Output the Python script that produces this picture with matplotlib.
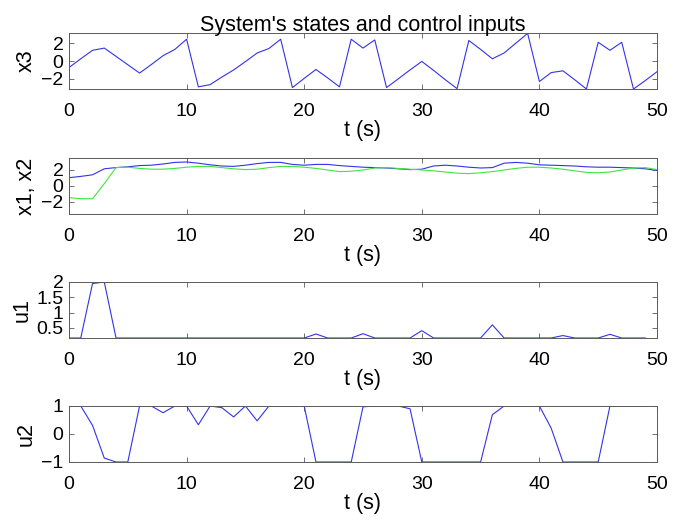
import numpy as np
import matplotlib
matplotlib.use("Agg")
import matplotlib.pyplot as plt

plt.rcParams['font.family'] = ['Liberation Sans', 'DejaVu Sans']

# time axis (s)
t_states = list(range(0, 51))
t_inputs = list(range(0, 50))

x3 = [-0.73, 0.25, 1.2, 1.45, 0.52, -0.42, -1.35, -0.4, 0.6, 1.3,
      2.44, -2.9, -2.65, -1.8, -1.0, -0.07, 0.9, 1.4, 2.44, -2.98,
      -1.95, -0.95, -1.9, -2.9, 2.44, 1.45, 2.36, -2.98, -2.0, -1.0,
      -0.05, -1.05, -2.1, -3.1, 2.3, 1.3, 0.25, 0.9, 2.0, 3.1,
      -2.3, -1.3, -1.1, -2.1, -3.14, 2.1, 1.2, 2.1, -3.14, -2.2,
      -1.2]

x1 = [1.04, 1.2, 1.4, 2.15, 2.3, 2.4, 2.55, 2.6, 2.75, 2.95,
      3.0, 2.85, 2.65, 2.5, 2.45, 2.6, 2.8, 2.95, 2.95, 2.7,
      2.6, 2.7, 2.7, 2.55, 2.45, 2.35, 2.3, 2.25, 2.15, 2.05,
      2.1, 2.5, 2.6, 2.5, 2.35, 2.25, 2.3, 2.85, 2.95, 2.85,
      2.65, 2.6, 2.55, 2.5, 2.4, 2.35, 2.35, 2.3, 2.25, 2.15,
      1.95]

x2 = [-1.46, -1.58, -1.6, 0.3, 2.3, 2.35, 2.2, 2.1, 2.1, 2.2,
      2.35, 2.45, 2.45, 2.3, 2.15, 2.05, 2.1, 2.3, 2.45, 2.45,
      2.35, 2.2, 2.0, 1.8, 1.85, 2.0, 2.25, 2.3, 2.2, 2.1,
      2.0, 1.9, 1.75, 1.6, 1.55, 1.65, 1.8, 2.0, 2.2, 2.35,
      2.35, 2.25, 2.1, 1.9, 1.7, 1.65, 1.75, 2.0, 2.25, 2.3,
      2.05]

u1_base = 0.17
u1 = [u1_base] * 50
for k, v in {2: 1.95, 3: 2.0, 21: 0.3, 25: 0.31, 30: 0.41, 36: 0.6, 42: 0.25, 46: 0.29}.items():
    u1[k] = v

u2 = [1, 1, 0.31, -0.86, -1, -1, 1, 1, 0.76, 1,
      1, 0.33, 1, 0.94, 0.61, 1, 0.47, 1, 1, 1,
      1, -1, -1, -1, -1, 0.97, 1, 1, 1, 0.9,
      -1, -1, -1, -1, -1, -1, 0.69, 1, 1, 1,
      1, 0.21, -1, -1, -1, -1, 1, 1, 1, 1]

xticks = [0, 10, 20, 30, 40, 50]

W, H = 692, 520
fig = plt.figure(figsize=(W / 100, H / 100), dpi=100)

left, right = 69, 657
tops = [33, 158, 282, 406]
ah = 56

TICK_FS = 14
LABEL_FS = 15.5

def make_ax(top):
    ax = fig.add_axes([left / W, (H - top - ah) / H, (right - left) / W, ah / H])
    for s in ax.spines.values():
        s.set_color('#5a5a5a')
        s.set_linewidth(0.7)
    ax.tick_params(direction='in', top=True, right=True, length=3.5, width=0.6,
                   labelsize=TICK_FS, colors='#5a5a5a', labelcolor='black')
    ax.tick_params(axis='x', pad=10)
    ax.tick_params(axis='y', pad=4)
    ax.set_xlim(0, 50)
    ax.set_xticks(xticks)
    ax.set_xlabel('t (s)', fontsize=LABEL_FS, labelpad=0)
    return ax

blue = (0.2, 0.2, 0.92)
green = (0.25, 0.9, 0.25)
lw = 0.8

ax1 = make_ax(tops[0])
ax1.plot(t_states, x3, color=blue, lw=lw)
ax1.set_ylim(-3.14, 3.14)
ax1.set_yticks([-2, 0, 2])
ax1.set_ylabel('x3', fontsize=LABEL_FS, labelpad=3)
ax1.set_title("System's states and control inputs", fontsize=LABEL_FS, pad=1.5)

ax2 = make_ax(tops[1])
ax2.plot(t_states, x1, color=blue, lw=lw)
ax2.plot(t_states, x2, color=green, lw=lw)
ax2.set_ylim(-3.5, 3.5)
ax2.set_yticks([-2, 0, 2])
ax2.set_ylabel('x1, x2', fontsize=LABEL_FS, labelpad=3)

ax3 = make_ax(tops[2])
ax3.plot(t_inputs, u1, color=blue, lw=lw)
ax3.set_ylim(min(u1), max(u1))
ax3.set_yticks([0.5, 1, 1.5, 2])
ax3.set_yticklabels(['0.5', '1', '1.5', '2'])
ax3.set_ylabel('u1', fontsize=LABEL_FS, labelpad=3)

ax4 = make_ax(tops[3])
ax4.plot(t_inputs, u2, color=blue, lw=lw)
ax4.set_ylim(-1, 1)
ax4.set_yticks([-1, 0, 1])
ax4.set_ylabel('u2', fontsize=LABEL_FS, labelpad=3)

fig.savefig('out.png', dpi=100)
